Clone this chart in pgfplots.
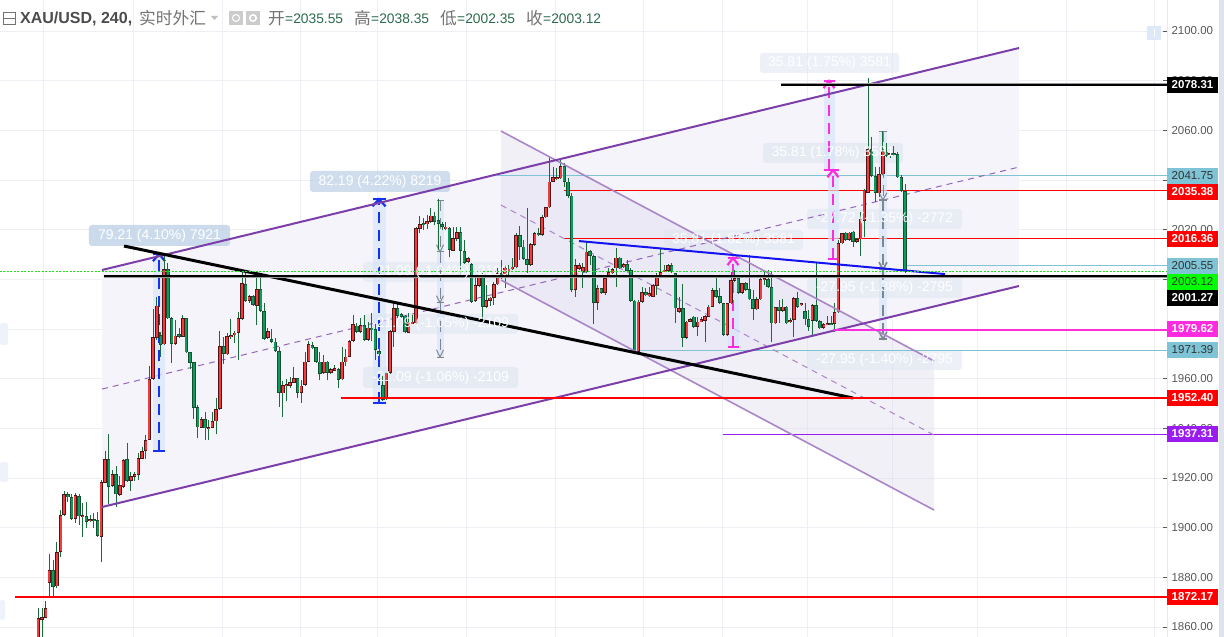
\documentclass[border=0pt]{standalone}
\usepackage{fontspec}
\usepackage{pgfplots}
\usepackage{pgfplotstable}
\pgfplotsset{compat=1.18}
\setmainfont{Liberation Sans}
\newfontfamily\cjk{Noto Sans CJK SC}
\definecolor{gridc}{HTML}{EDEFF5}
\definecolor{wick}{HTML}{1B6B3C}
\definecolor{upfill}{HTML}{F23B3B}
\definecolor{upedge}{HTML}{4E1616}
\definecolor{dnfill}{HTML}{0A9C5C}
\definecolor{dnedge}{HTML}{12502F}
\definecolor{chan}{HTML}{7C3FA9}
\definecolor{chanb}{HTML}{AA86C9}
\definecolor{lav}{HTML}{F5F4FB}
\definecolor{lavb}{HTML}{DAD5EA}
\definecolor{lb}{HTML}{7FC4D6}
\definecolor{mag}{HTML}{FF2BE0}
\definecolor{band}{HTML}{D6E5FA}
\definecolor{dblue}{HTML}{1432F0}
\definecolor{gmeas}{HTML}{7E8790}
\definecolor{valg}{HTML}{2C6B4C}
\definecolor{strongbox}{HTML}{BCCFE6}
\definecolor{faintbox}{HTML}{DFE7F1}
\definecolor{stripc}{HTML}{DFE3EE}
\definecolor{purp}{HTML}{9A1CF0}
\definecolor{bluel}{HTML}{1414F0}
\definecolor{dotg}{HTML}{22DD22}
\definecolor{limec}{HTML}{00FF00}
\definecolor{stub}{HTML}{EEF3FB}
\definecolor{btn}{HTML}{DEE9F8}
\pgfplotstableread{
i o h l c
0 1855 1867.6 1855 1863.6
1 1863 1867.6 1856 1864
2 1863.8 1870.3 1863.5 1867.6
3 1877.9 1889.3 1872.3 1883
4 1883 1887 1872 1876.3
5 1876.3 1894.4 1875.6 1890.1
6 1890.1 1907 1888 1905.1
7 1905.1 1914.9 1904.5 1913.4
8 1913.6 1914.5 1910.5 1912.2
9 1912.2 1913.6 1903.1 1903.4
10 1903.5 1914.1 1902 1913
11 1912.6 1913.5 1901.1 1904.5
12 1904.6 1909.8 1896.1 1904.7
13 1904.6 1910.2 1899.8 1902.4
14 1902.8 1905 1902.4 1903.5
15 1903.5 1905.8 1899.8 1902.7
16 1903.1 1906.1 1896.4 1896.8
17 1896.4 1919.2 1886.3 1918.3
18 1918.1 1930.9 1917.9 1927.5
19 1927.5 1937.6 1909.6 1916.5
20 1916.9 1923.2 1916.5 1921.5
21 1921.5 1924.9 1908.2 1913.4
22 1913.2 1920.6 1912.8 1917.2
23 1916.5 1927.7 1916.1 1927.3
24 1927.5 1934 1918.6 1918.9
25 1918.9 1922.6 1914.9 1920.8
26 1920.6 1922.6 1918.9 1921.5
27 1921.2 1930 1919.2 1928.1
28 1927.8 1932.6 1927.7 1930.9
29 1930.9 1937.3 1927.5 1935.3
30 1935.3 1964.9 1935.3 1959.8
31 1959.8 1988 1959.5 1976.7
32 1976.3 1993 1975.6 1989.4
33 1977.6 1978.6 1968.9 1973.6
34 1973.8 2009.8 1973.6 2004
35 2004 2006.5 1984 1984.3
36 1984.3 1985 1966.2 1974
37 1974 1983.6 1973.6 1977.3
38 1977.9 1980.3 1976.6 1976.9
39 1976.9 1985.7 1976.6 1984.3
40 1984.3 1984.6 1970.2 1970.6
41 1970.6 1970.9 1963.8 1966.5
42 1966.5 1966.9 1943.8 1948.3
43 1948.5 1949.4 1935.9 1940.4
44 1940.2 1944.7 1940 1943.6
45 1943.6 1946.5 1935.3 1940
46 1940 1943.4 1935.1 1940.1
47 1940.3 1946.5 1940 1943
48 1942.8 1952.1 1937.7 1947.7
49 1947.7 1979 1947.4 1973.2
50 1973.2 1976.9 1965.9 1970
51 1969.8 1978.3 1969.6 1977.2
52 1977 1983.9 1975.9 1977.3
53 1977.6 1979 1974.2 1978.5
54 1978.5 1987 1967.5 1984.3
55 1984 2003 1983.6 1998.4
56 1998.1 2002.4 1991 1991.3
57 1991.3 1993.7 1990.4 1993.2
58 1993.3 1993.7 1989.3 1989.7
59 1989.3 2000.8 1981.6 1996
60 1996 2002.4 1987 1987.3
61 1987.3 1990.4 1975.6 1976
62 1976.3 1980.3 1976 1979.2
63 1975.9 1979.9 1974.6 1974.9
64 1974.9 1976.3 1970.9 1971.3
65 1971.2 1972.9 1948.7 1954.4
66 1954.1 1959.2 1944.7 1957.5
67 1957.3 1959.8 1951 1957.5
68 1957.2 1960.8 1956.1 1958.5
69 1958.4 1964.5 1958.1 1960.2
70 1960.2 1960.4 1952.1 1954.4
71 1954.4 1959.5 1950.1 1957.2
72 1957.5 1970.9 1957.1 1966.9
73 1966.9 1975.3 1966.5 1974
74 1973.6 1974.9 1972 1972.2
75 1972.6 1972.9 1966.6 1966.9
76 1966.9 1970.9 1959.5 1961.9
77 1962.2 1969.5 1961.9 1966.9
78 1966.9 1967 1959.5 1962.2
79 1962.2 1964.2 1961.9 1963.9
80 1963.6 1965.5 1963.5 1963.8
81 1963.9 1964.2 1956.1 1959.5
82 1959.7 1972.9 1959.5 1966.9
83 1966.5 1972 1964.9 1968.9
84 1968.9 1975.6 1968.6 1975.2
85 1975.2 1985.6 1974.9 1981.9
86 1981.4 1982.6 1978.3 1978.7
87 1978.7 1984.3 1978.3 1981.6
88 1981.4 1985.6 1975.3 1975.6
89 1975.6 1983 1975.3 1980.6
90 1980.6 1986.3 1975.3 1979.6
91 1979.9 1982.3 1967.5 1971.6
92 1971.2 1972.9 1967.5 1969.8
93 1957.5 1962.8 1950.8 1951.4
94 1951.8 1962.8 1951.4 1962.2
95 1962.2 1979.6 1961.9 1979
96 1978.7 1991 1972.9 1988.3
97 1988.3 1991 1984.3 1985.4
98 1985.9 1986.3 1984.6 1985
99 1985.4 1985.6 1978.4 1978.7
100 1978.5 1986.3 1978.3 1982.7
101 1982.4 1985.6 1982.3 1982.6
102 1982.3 2021.2 1982 2020.5
103 2020.3 2025.5 2018.5 2022.3
104 2022.4 2024.6 2019.9 2022.2
105 2022.2 2025.9 2020.1 2023.5
106 2023.2 2028.6 2022.8 2025.6
107 2025.6 2027.3 2021.9 2023.2
108 2023.7 2032.2 2011.8 2022.3
109 2022.2 2023.2 2019.9 2021.2
110 2020.2 2023.2 2019.9 2021.2
111 2020.5 2021.2 2008.9 2011.8
112 2011.4 2021 2011.2 2016.5
113 2016.2 2021.2 2015.6 2019.1
114 2019.1 2021 2001.8 2011.6
115 2011.3 2015.9 2006.4 2006.7
116 2006.9 2008.9 2006.4 2008.5
117 2006 2006.4 1990.6 1991
118 1991.3 2000.4 1991 1997.7
119 1997.5 2002.7 1997 2001.8
120 2002 2002.4 1982.3 1989
121 1989 1997.7 1988.6 1991.7
122 1991.4 1993 1989.3 1992.6
123 1992.6 1999 1989.7 1998
124 1998 2004.4 1997.7 2002.4
125 2002.4 2007.8 2000.1 2000.4
126 2000.8 2005.8 1996.4 2004.7
127 2003.7 2005.8 2001.8 2004
128 2004 2008.5 2003.8 2005.1
129 2004.8 2018.5 2004.4 2017.9
130 2017.9 2021.5 2007.8 2013.2
131 2013.2 2015.9 2007.8 2008.2
132 2008.2 2028.6 2002.4 2005.8
133 2005.8 2014.5 2005.4 2014.1
134 2013.8 2019.2 2013.4 2018.5
135 2018.5 2020.5 2017.5 2017.9
136 2017.9 2025.9 2017.5 2025
137 2024.9 2029.3 2024.6 2029
138 2029 2049.4 2028.6 2039.3
139 2039.3 2045.4 2039 2041.1
140 2040.3 2044.7 2040 2041
141 2040.7 2048 2040.3 2045.6
142 2045.6 2046.7 2037.3 2039.3
143 2039.3 2040.7 2032.6 2033.7
144 2033.7 2034.6 1995 1995.7
145 1995.7 2008.1 1993 2005.8
146 2004.1 2006.4 2003.8 2005.8
147 2003.1 2006.4 1996.4 2004.8
148 2003.1 2015.6 2002.7 2011.2
149 2011.2 2011.8 2005.8 2009.5
150 2009.4 2009.8 1982 1990.4
151 1990.4 1997.7 1987.7 1996.4
152 1996.4 1996.6 1994.1 1994.4
153 1994.4 2000.6 1993.7 2000.4
154 2000.7 2004.4 2000.4 2002.8
155 2002.4 2004.4 2002 2004
156 2004.4 2012.5 1997 2008.7
157 2008.7 2009.1 2004 2004.4
158 2004.8 2006.4 2004.4 2006
159 2006 2007.8 2003.1 2003.4
160 2003.8 2004.4 1991 1991.4
161 1991.4 1991.7 1970.5 1970.9
162 1970.9 1991.7 1970.2 1991
163 1991 1996.8 1990.6 1994.8
164 1994.8 1996.4 1993.3 1993.7
165 1993.3 1997 1992.8 1994.4
166 1993 1998.1 1992.8 1997.7
167 1997.4 2002.4 1993.7 2001.3
168 2001.3 2012.7 2001.1 2002.8
169 2003.4 2005.8 2003.1 2003.6
170 2003.5 2006.2 2003.1 2005.8
171 2005.8 2006.4 2002.7 2003.1
172 2002.4 2002.7 1982.6 1988.3
173 1987 1992.8 1986.6 1988.3
174 1988.3 1998.1 1972.6 1976.3
175 1976.3 1983.4 1975.9 1983
176 1983 1984.3 1982.7 1983.9
177 1985 1985.2 1980.7 1980.9
178 1980.9 1984.7 1977.2 1983
179 1983.3 1985 1983 1983.5
180 1983.4 1985.6 1974.9 1985.2
181 1985 1989.7 1984.7 1989
182 1989 1996.4 1988.7 1995.7
183 1995.7 2001.3 1992.8 1993
184 1993.3 1996.4 1990.3 1990.6
185 1990.3 1990.6 1977.2 1977.6
186 1977.6 1990.6 1977.2 1990.3
187 1990.3 2003.1 1989.9 1999.7
188 1999.5 2003.8 1999 2000.4
189 2000.4 2000.7 1994.1 1994.4
190 1994.4 1998.7 1994.1 1998.4
191 1998.4 1999 1995.4 1995.7
192 1996 2009.8 1991.7 1991.9
193 1991.9 1995.7 1983.6 1988
194 1987.9 1992.8 1987.7 1991.9
195 1991.9 2001.7 1991.7 2000.1
196 2000 2003.4 1997.7 2000.2
197 2000.1 2003.8 1996.8 1997
198 1997 2003.4 1974.9 1982.3
199 1982.3 1989 1982 1988.7
200 1989 1991.7 1982.3 1987.3
201 1987.3 1991.9 1987 1989
202 1989 1989.3 1982 1982.3
203 1982.7 1984.3 1982.3 1983.6
204 1983.6 1992.8 1976.9 1992.4
205 1992.4 1995 1988.7 1989
206 1989.7 1990.6 1989.3 1990.3
207 1987.3 1990.3 1981.6 1983.9
208 1983.9 1987.7 1979.3 1980.9
209 1983.4 1989.9 1977.6 1989.7
210 1989.7 2006.4 1983 1983.4
211 1983.2 1983.6 1979.9 1980.3
212 1980.3 1982.3 1979.9 1981.9
213 1982 1985.2 1981.6 1982.1
214 1982.1 1985.2 1981.6 1982
215 1982 1990.3 1978.9 1986.7
216 1986.7 2015.8 1986.3 2014.5
217 2014.5 2018.8 2014.2 2018.5
218 2018.8 2019.2 2015.6 2015.9
219 2015.9 2019.2 2015.6 2018.8
220 2019.2 2019.6 2013.2 2015.2
221 2015.2 2016.5 2014.8 2016.3
222 2016.1 2027.3 2009.2 2024.2
223 2023.5 2036.3 2017.2 2035.7
224 2034.9 2081 2034.6 2052.4
225 2052.4 2057.5 2041.4 2041.6
226 2041.6 2045.4 2031.3 2034.9
227 2034.6 2045.4 2033.3 2042.3
228 2042.3 2059.9 2042 2051.7
229 2051.4 2054.8 2049.4 2049.8
230 2050.3 2051 2048.7 2050.4
231 2050.4 2053.7 2049.7 2050.3
232 2050.4 2051.4 2040.7 2041
233 2041.1 2042 2035.3 2035.7
234 2035.55 2038.35 2002.35 2003.12
}\candles
% measure tool: x, start price, tip price, colour, line width, half width
\newcommand\measure[6]{%
  \pgfmathsetmacro\mxa{#1-#6}\pgfmathsetmacro\mxb{#1+#6}%
  \pgfmathsetmacro\mchev{#3-2.9*sign(#3-#2)}%
  \addplot[draw=none,fill=band,fill opacity=.65] coordinates {(\mxa,#2)(\mxb,#2)(\mxb,#3)(\mxa,#3)} --cycle;
  \addplot[#4,line width=#5,dash pattern=on 11pt off 7pt] coordinates {(#1,#2)(#1,#3)};
  \addplot[#4,line width=#5] coordinates {(\mxa,#2)(\mxb,#2)};
  \addplot[#4,line width=#5] coordinates {(\mxa,#3)(\mxb,#3)};
  \addplot[#4,line width=#5] coordinates {(\mxa,\mchev)(#1,#3)(\mxb,\mchev)};
}
\newcommand\hl[5]{\addplot[#4,line width=#5] coordinates {(#1,#3)(#2,#3)};}
% caption boxes: x0, x1, top pixel row, bottom pixel row, colour, opacity
\newcommand\pbox[6]{%
  \pgfmathsetmacro\bya{2100-(#3-31)*0.4027}\pgfmathsetmacro\byb{2100-(#4-31)*0.4027}%
  \addplot[draw=none,fill=#5,fill opacity=#6,rounded corners=3pt] coordinates {(#1,\bya)(#2,\bya)(#2,\byb)(#1,\byb)} --cycle;
}
\newcommand\lab[5]{%
  \node[white,font=\fontsize{14}{14}\selectfont,inner sep=0pt] at ({(#1+#2)/2},{(#3+#4)/2}) {#5};}
\newcommand\tagt[5]{%
  \fill[#2] (1167,#1-8) rectangle (1218,#1+8);
  \node[#3,font=\fontsize{11.5}{12}\selectfont#4,inner sep=0pt] at (1192.5,#1) {#5};}
\begin{document}
\begin{tikzpicture}
\fill[white] (0,0) rectangle (1224pt,637pt);
\fill[stripc] (1219pt,0) rectangle (1224pt,637pt);
\begin{axis}[
  at={(0,0)},anchor=south west,
  width=1167pt,height=637pt,scale only axis,
  xmin=0,xmax=1167,ymin=1855.96,ymax=2112.48,
  axis line style={draw=none},
  xtick={43,133,222,300,377,466,555,643,722,807,892,977,1066,1154},
  xticklabels={},
  xtick style={draw=none},
  ytick={1860,1880,1900,1920,1940,1960,1980,2000,2020,2040,2060,2080,2100},
  yticklabels={1860.00,1880.00,1900.00,1920.00,1940.00,1960.00,,,2020.00,,2060.00,2080.00,2100.00},
  ytick pos=right,yticklabel pos=right,
  major tick length=4pt,
  ytick style={color=black!65,line width=.7pt},
  yticklabel style={font=\fontsize{11.5}{12}\selectfont,text=black!65,xshift=1pt},
  grid=major,grid style={gridc,line width=.8pt},
]
% channels
\addplot[draw=none,fill=lav] coordinates {(102,2003.75)(1019,2093.15)(1019,1997.3)(102,1908.3)} --cycle;
\addplot[draw=none,fill=lavb,fill opacity=.35] coordinates {(501,2059.7)(934,1967.1)(934,1907.1)(501,1999.7)} --cycle;
% caption boxes
\pbox{89}{230}{225}{246}{strongbox}{.75}
\pbox{310}{450}{171}{192}{strongbox}{.7}
\pbox{363}{518}{262}{282}{faintbox}{.6}
\pbox{363}{518}{314}{334}{faintbox}{.6}
\pbox{363}{518}{367}{388}{faintbox}{.7}
\pbox{664}{803}{230}{250}{faintbox}{.55}
\pbox{763}{903}{143}{163}{faintbox}{.7}
\pbox{760}{899}{53}{73}{faintbox}{.55}
\pbox{807}{962}{209}{229}{faintbox}{.55}
\pbox{807}{962}{278}{298}{faintbox}{.55}
\pbox{807}{962}{350}{370}{faintbox}{.55}
% lines under the candles
\hl{497}{1167}{2041.75}{lb}{.9pt}
\hl{564}{1167}{2035.85}{red}{1pt}
\hl{564}{1167}{2016.36}{red}{1pt}
\hl{905}{1167}{2005.55}{lb}{.9pt}
\hl{640}{1167}{1971.39}{lb}{.9pt}
\hl{723}{1167}{1937.31}{purp}{1pt}
\addplot[chanb,line width=1pt,dash pattern=on 6pt off 5pt] coordinates {(501,2029.9)(934,1937.3)};
\addplot[chan!80,line width=1pt,dash pattern=on 6pt off 5pt] coordinates {(102,1955.8)(1019,2045.2)};
% measures
\measure{159}{1930.9}{2010.2}{dblue}{2.2pt}{6}
\measure{379}{1950.2}{2032.3}{dblue}{2.2pt}{6.5}
\measure{733}{1972.7}{2008.6}{mag}{2.2pt}{5.5}
\measure{833}{2008.2}{2044.0}{mag}{2.2pt}{5.5}
\measure{829}{2044.0}{2079.9}{mag}{2.2pt}{5.5}
\measure{883}{2059.7}{2032.0}{gmeas}{1pt}{4}
\measure{883}{2032.0}{2004.0}{gmeas}{1.6pt}{4}
\measure{883}{2004.0}{1976.0}{gmeas}{1.6pt}{4}
\measure{440}{2031.9}{2011.0}{gmeas}{1pt}{3.5}
\measure{440}{2011.0}{1990.5}{gmeas}{1pt}{3.5}
\measure{440}{1990.5}{1968.7}{gmeas}{1pt}{3.5}
% candle wicks
\addplot[draw=none,error bars/.cd,y dir=both,y explicit,error mark=none,
   error bar style={wick,line width=.9pt}]
  table[x expr={38.3+3.704*\thisrow{i}},y=c,
        y error plus expr={\thisrow{h}-\thisrow{c}},
        y error minus expr={\thisrow{c}-\thisrow{l}}] {\candles};
% falling bodies (green)
\addplot[draw=none,restrict expr to domain={\thisrow{o}-\thisrow{c}}{0.0001:1000},
   error bars/.cd,y dir=both,y explicit,error mark=none,
   error bar style={dnedge,line width=3.5pt}]
  table[x expr={38.3+3.704*\thisrow{i}},y expr={(\thisrow{o}+\thisrow{c})/2},
        y error expr={max(abs(\thisrow{o}-\thisrow{c})/2,0.45)}] {\candles};
\addplot[draw=none,restrict expr to domain={\thisrow{o}-\thisrow{c}}{0.0001:1000},
   error bars/.cd,y dir=both,y explicit,error mark=none,
   error bar style={dnfill,line width=2pt}]
  table[x expr={38.3+3.704*\thisrow{i}},y expr={(\thisrow{o}+\thisrow{c})/2},
        y error expr={max(abs(\thisrow{o}-\thisrow{c})/2-0.3,0.12)}] {\candles};
% rising bodies (red)
\addplot[draw=none,restrict expr to domain={\thisrow{c}-\thisrow{o}}{0:1000},
   error bars/.cd,y dir=both,y explicit,error mark=none,
   error bar style={upedge,line width=3.5pt}]
  table[x expr={38.3+3.704*\thisrow{i}},y expr={(\thisrow{o}+\thisrow{c})/2},
        y error expr={max(abs(\thisrow{o}-\thisrow{c})/2,0.45)}] {\candles};
\addplot[draw=none,restrict expr to domain={\thisrow{c}-\thisrow{o}}{0:1000},
   error bars/.cd,y dir=both,y explicit,error mark=none,
   error bar style={upfill,line width=2pt}]
  table[x expr={38.3+3.704*\thisrow{i}},y expr={(\thisrow{o}+\thisrow{c})/2},
        y error expr={max(abs(\thisrow{o}-\thisrow{c})/2-0.3,0.12)}] {\candles};
% trend lines and channels above the candles
\addplot[chanb,line width=1.6pt] coordinates {(501,2059.7)(934,1967.1)};
\addplot[chanb,line width=1.6pt] coordinates {(501,1999.7)(934,1907.1)};
\addplot[chan,line width=2pt] coordinates {(102,2003.75)(1019,2093.15)};
\addplot[chan,line width=2pt] coordinates {(102,1908.3)(1019,1997.3)};
\addplot[black,line width=3pt] coordinates {(124,2013.4)(853,1952.2)};
\addplot[bluel,line width=2pt] coordinates {(579,2015.4)(945,2002.1)};
\hl{781}{1167}{2078.31}{black!40}{3.2pt}
\hl{781}{1167}{2078.31}{black}{1.8pt}
\hl{104}{1167}{2001.27}{black!40}{3.2pt}
\hl{104}{1167}{2001.27}{black}{1.8pt}
\addplot[dotg,line width=.8pt,dash pattern=on 2pt off 1.5pt] coordinates {(0,2003.12)(1167,2003.12)};
\hl{341}{1167}{1952.40}{red}{2pt}
\hl{15}{1167}{1872.17}{red}{2pt}
\hl{833}{1167}{1979.62}{mag}{2pt}
\addplot[black!65,line width=1pt] coordinates {(1167,1855.96)(1167,2112.48)};
\end{axis}
\begin{scope}[x=1pt,y=-1pt,shift={(0,637pt)}]
% measure captions
\lab{89}{230}{225}{246}{79.21 (4.10\%) 7921}
\lab{310}{450}{171}{192}{82.19 (4.22\%) 8219}
\lab{363}{518}{262}{282}{-21.09 (-1.04\%) -2109}
\lab{363}{518}{314}{334}{-21.09 (-1.05\%) -2109}
\lab{363}{518}{367}{388}{-21.09 (-1.06\%) -2109}
\lab{664}{803}{230}{250}{35.81 (1.82\%) 3581}
\lab{763}{903}{143}{163}{35.81 (1.78\%) 3581}
\lab{760}{899}{53}{73}{35.81 (1.75\%) 3581}
\lab{807}{962}{209}{229}{-27.72 (-1.35\%) -2772}
\lab{807}{962}{278}{298}{-27.95 (-1.38\%) -2795}
\lab{807}{962}{350}{370}{-27.95 (-1.40\%) -2795}
% price tags
\tagt{85}{black}{white}{\bfseries}{2078.31}
\tagt{176}{lb}{black!80}{}{2041.75}
\tagt{192}{red}{white}{\bfseries}{2035.38}
\tagt{239}{red}{white}{\bfseries}{2016.36}
\tagt{266}{lb}{black!80}{}{2005.55}
\tagt{282}{limec}{black!80}{}{2003.12}
\tagt{298}{black}{white}{\bfseries}{2001.27}
\tagt{329}{mag}{white}{\bfseries}{1979.62}
\tagt{350}{lb}{black!80}{}{1971.39}
\tagt{398}{red}{white}{\bfseries}{1952.40}
\tagt{434}{purp}{white}{\bfseries}{1937.31}
\tagt{597}{red}{white}{\bfseries}{1872.17}
% left stubs and scale button
\fill[stub,rounded corners=2pt] (0,323) rectangle (8,345);
\fill[stub,rounded corners=2pt] (0,462) rectangle (8,482);
\fill[stub,rounded corners=2pt] (0,600) rectangle (5,620);
\fill[btn] (1147,26) rectangle (1161,40);
\draw[white,line width=1pt] (1154,29) -- (1154,37);
% header
\draw[black!55,line width=.8pt] (3,12) rectangle (15,24) (3,18) -- (15,18);
\node[anchor=west,inner sep=0pt,font=\fontsize{16}{16}\selectfont\bfseries,text=black!70] at (20,18.5) {XAU/USD, 240,};
\node[anchor=west,inner sep=0pt,font=\fontsize{16.7}{17}\selectfont\cjk,text=black!55] at (139,18.5) {实时外汇};
\fill[black!25] (211,16) -- (218,16) -- (214.5,20) -- cycle;
\fill[black!20] (229,11) rectangle (243,25);
\fill[black!20] (246,11) rectangle (260,25);
\draw[white,line width=1pt] (236,18) circle (3.5);
\draw[white,line width=1.6pt] (253,18) circle (3.2);
\node[anchor=west,inner sep=0pt,text=black!55,font=\fontsize{16.7}{17}\selectfont\cjk] at (268,18.5) {开};
\node[anchor=west,inner sep=0pt,text=valg,font=\fontsize{13.8}{14}\selectfont] at (285,18.5) {=2035.55};
\node[anchor=west,inner sep=0pt,text=black!55,font=\fontsize{16.7}{17}\selectfont\cjk] at (354,18.5) {高};
\node[anchor=west,inner sep=0pt,text=valg,font=\fontsize{13.8}{14}\selectfont] at (371,18.5) {=2038.35};
\node[anchor=west,inner sep=0pt,text=black!55,font=\fontsize{16.7}{17}\selectfont\cjk] at (440,18.5) {低};
\node[anchor=west,inner sep=0pt,text=valg,font=\fontsize{13.8}{14}\selectfont] at (457,18.5) {=2002.35};
\node[anchor=west,inner sep=0pt,text=black!55,font=\fontsize{16.7}{17}\selectfont\cjk] at (526,18.5) {收};
\node[anchor=west,inner sep=0pt,text=valg,font=\fontsize{13.8}{14}\selectfont] at (543,18.5) {=2003.12};
\end{scope}
\pgfresetboundingbox
\path (0,0) rectangle (1224pt,637pt);
\end{tikzpicture}
\end{document}
